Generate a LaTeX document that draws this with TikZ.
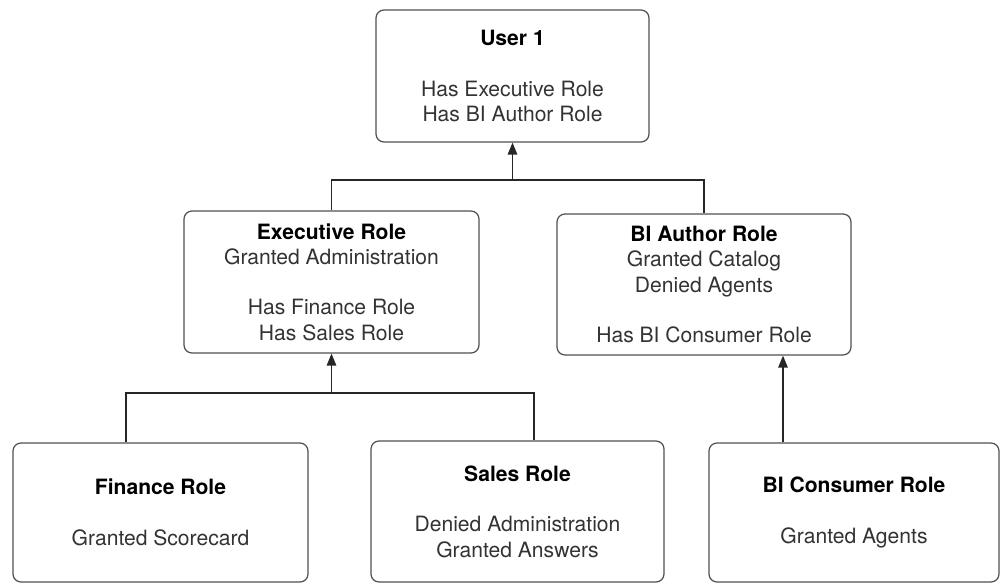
\documentclass[tikz,border=0pt]{standalone}
\usepackage{fontspec}
\setmainfont{TeX Gyre Heros}
\usepackage{xcolor}
\usepackage{tikz}
\usetikzlibrary{arrows.meta,calc}
\definecolor{boxline}{HTML}{505050}
\definecolor{roletext}{HTML}{333333}

\begin{document}
\begin{tikzpicture}[>={Triangle[length=2.4mm,width=1.9mm]},
    font=\fontsize{12}{14.4}\selectfont,
    role/.style={draw=boxline,line width=0.7pt,rounded corners=1.6mm,inner sep=0pt,
      align=center,text=roletext},
    link/.style={draw=black!85,line width=0.75pt}]
    \useasboundingbox (0,0) rectangle (20,-11.68);
    \node[role,minimum width=5.46cm,minimum height=2.64cm] (user) at (10.25,-1.52)
      {\textcolor{black}{\bfseries User 1}\\[14.4pt]Has Executive Role\\Has BI Author Role};

    \node[role,minimum width=5.9cm,minimum height=2.84cm] (exec) at (6.63,-5.64)
      {\textcolor{black}{\bfseries Executive Role}\\Granted Administration\\[14.4pt]Has Finance Role\\Has Sales Role};
    \node[role,minimum width=5.88cm,minimum height=2.82cm] (biauthor) at (14.08,-5.69)
      {\textcolor{black}{\bfseries BI Author Role}\\Granted Catalog\\Denied Agents\\[14.4pt]Has BI Consumer Role};

    \node[role,minimum width=5.9cm,minimum height=2.78cm] (finance) at (3.21,-10.25)
      {\textcolor{black}{\bfseries Finance Role}\\[14.4pt]Granted Scorecard};
    \node[role,minimum width=5.86cm,minimum height=2.82cm] (sales) at (10.35,-10.23)
      {\textcolor{black}{\bfseries Sales Role}\\[14.4pt]Denied Administration\\Granted Answers};
    \node[role,minimum width=5.8cm,minimum height=2.78cm] (biconsumer) at (17.08,-10.25)
      {\textcolor{black}{\bfseries BI Consumer Role}\\[14.4pt]Granted Agents};

    % junctions of the tree lines
    \coordinate (joinA) at (user.south |- 0,-3.6);
    \coordinate (joinB) at (exec.south |- 0,-7.86);
    \coordinate (finOut) at ([xshift=-0.69cm]finance.north);
    \coordinate (salesOut) at ([xshift=0.33cm]sales.north);
    \coordinate (consOut) at ([xshift=-1.42cm]biconsumer.north);

    \draw[link] (exec.north) |- (biauthor.north |- joinA) -- (biauthor.north);
    \draw[link,->] (joinA) -- (user.south);
    \draw[link] (finOut) |- (salesOut |- joinB) -- (salesOut);
    \draw[link,->] (joinB) -- (exec.south);
    \draw[link,->] (consOut) -- (consOut |- biauthor.south);
  \end{tikzpicture}
\end{document}
